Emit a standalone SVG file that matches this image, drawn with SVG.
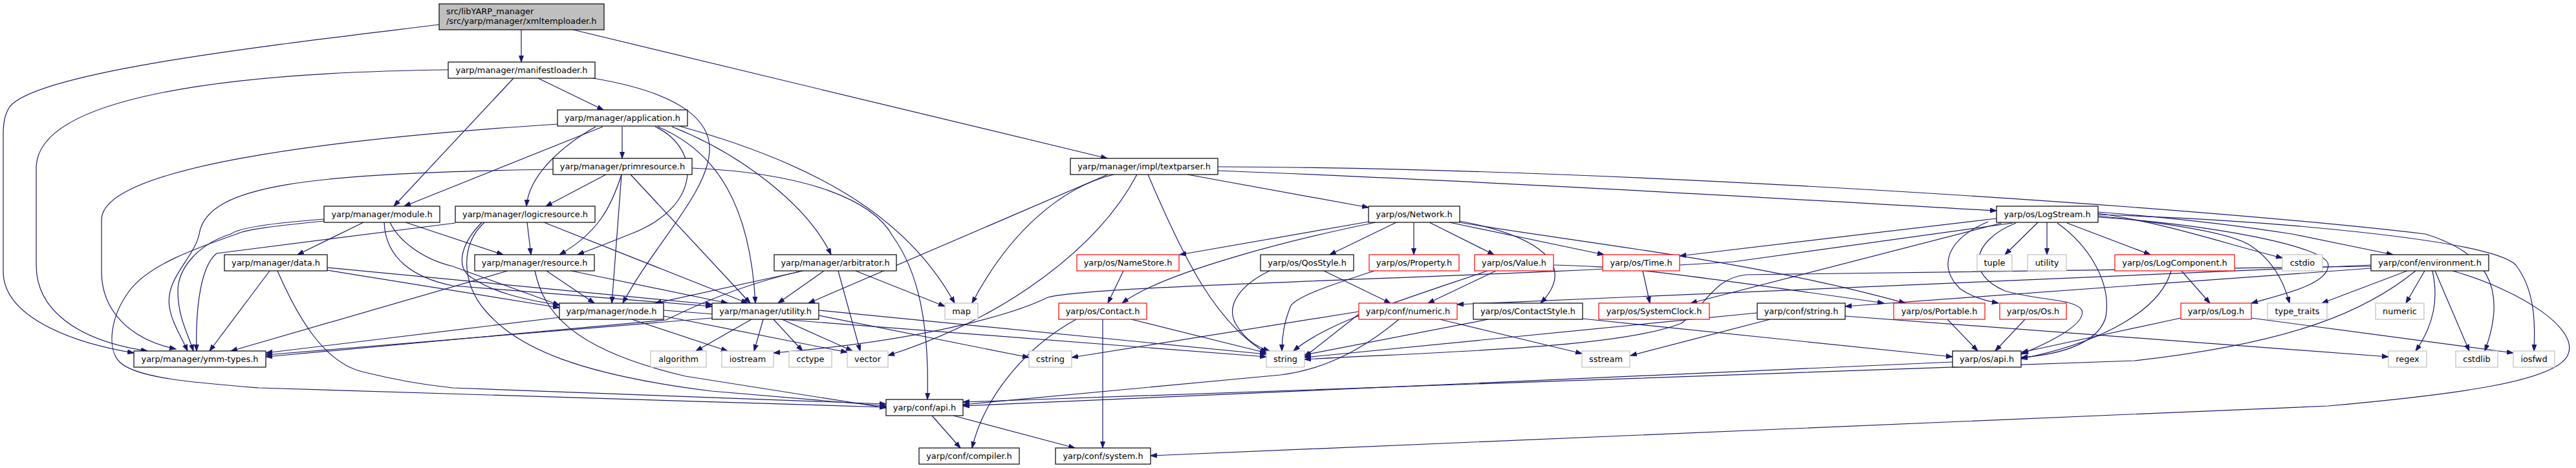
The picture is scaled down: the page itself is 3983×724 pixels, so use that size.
<svg xmlns="http://www.w3.org/2000/svg" width="3983" height="724" viewBox="0 0 3983 724">
<style>
.nd rect{fill:#fff;stroke:#000;stroke-width:1.2}
.nd.r rect{stroke:#f00}
.nd.g rect{stroke:#bfbfbf}
.nd.root rect{fill:#bfbfbf}
text{font-family:"DejaVu Sans",sans-serif;font-size:12.9px;fill:#000}
.nd text{text-anchor:middle}
#edges path{fill:none;stroke:#191970;stroke-width:1.2;marker-end:url(#a)}
</style>
<defs>
<marker id="a" markerUnits="userSpaceOnUse" markerWidth="11" markerHeight="8" refX="10" refY="4" orient="auto" viewBox="0 0 11 8"><path d="M0,0.5 L10,4 L0,7.5 z" fill="#191970" stroke="#191970"/></marker>
</defs>
<rect width="3983" height="724" fill="#fff"/>
<g id="edges">
<path d="M679,38 C420,70 60,110 15,165 C7,178 5,190 5,210 L5,420 C5,490 110,530 207,546"/>
<path d="M806,46 L806,96"/>
<path d="M886,46 L1712,245"/>
<path d="M693,108 C350,112 56,150 56,260 L56,410 C56,480 120,527 228,543"/>
<path d="M794,121 L609,319"/>
<path d="M832,121 L933,170"/>
<path d="M917,121 C1060,145 1100,190 1097,235 C1093,300 1010,380 963,469"/>
<path d="M862,192 C500,215 157,260 157,340 L157,420 C157,480 200,525 272,540"/>
<path d="M932,196 L625,319"/>
<path d="M962,196 L962,245"/>
<path d="M921,196 C870,225 818,270 814,319"/>
<path d="M1013,196 C1085,230 1085,320 975,362 C950,372 920,384 893,394"/>
<path d="M1017,196 C1110,235 1160,320 1168,469"/>
<path d="M1039,196 C1150,240 1250,320 1285,394"/>
<path d="M1050,195 C1250,250 1400,330 1476,469"/>
<path d="M855,262 C480,268 320,285 308,362 C300,400 255,430 262,475 C266,500 280,520 290,543"/>
<path d="M937,270 L844,319"/>
<path d="M961,270 C945,320 925,360 865,394"/>
<path d="M961,270 L946,469"/>
<path d="M975,270 L1160,469"/>
<path d="M1070,260 C1250,268 1350,310 1380,365 C1420,420 1437,500 1434,618"/>
<path d="M815,344 L821,394"/>
<path d="M704,345 L335,392 C312,410 302,470 304,543"/>
<path d="M745,344 C710,380 705,415 730,430 C760,450 800,462 865,472"/>
<path d="M749,344 C710,380 715,440 750,480 C800,540 900,580 1100,605 L1370,628"/>
<path d="M841,344 L1156,469"/>
<path d="M562,344 L460,394"/>
<path d="M501,339 C420,345 370,352 357,362 C300,380 275,420 275,450 C275,490 290,515 299,543"/>
<path d="M501,342 C420,350 380,355 366,362 C300,385 230,410 200,450 C170,490 165,540 185,560 C210,585 300,592 400,600 L1370,630"/>
<path d="M627,344 L778,394"/>
<path d="M603,344 C615,370 650,400 700,412 L865,472"/>
<path d="M594,344 C596,400 640,430 700,442 L1101,474"/>
<path d="M417,419 L324,543"/>
<path d="M429,419 C460,490 500,560 560,575 C600,585 650,595 700,600 L1370,625"/>
<path d="M506,418 L865,476"/>
<path d="M506,414 L1101,471"/>
<path d="M785,419 L357,543"/>
<path d="M845,419 L919,469"/>
<path d="M883,419 L1125,469"/>
<path d="M827,419 C840,480 880,540 1060,582 L1370,631"/>
<path d="M865,491 L411,546"/>
<path d="M977,494 L1125,543"/>
<path d="M1026,480 L1958,552"/>
<path d="M1026,489 L1310,545"/>
<path d="M1101,492 L411,549"/>
<path d="M1162,494 L1076,543"/>
<path d="M1180,494 L1166,543"/>
<path d="M1196,494 L1241,543"/>
<path d="M1209,494 L1318,543"/>
<path d="M1266,480 L1958,548"/>
<path d="M1266,488 L1591,553"/>
<path d="M1236,420 C1150,440 1080,470 1030,495 L411,552"/>
<path d="M1242,419 L1013,469"/>
<path d="M1274,419 L1203,469"/>
<path d="M1323,419 L1461,474"/>
<path d="M1296,419 L1330,543"/>
<path d="M1713,270 L1250,469"/>
<path d="M1722,270 C1640,290 1560,360 1503,469"/>
<path d="M1758,270 C1700,380 1560,490 1373,550"/>
<path d="M1775,270 C1830,400 1880,500 1958,546"/>
<path d="M1836,270 L2116,321"/>
<path d="M1883,264 C2300,280 2800,310 3087,326"/>
<path d="M1883,258 C2500,260 3400,320 3750,362 C3840,390 3880,440 3842,543"/>
<path d="M2116,343 L1824,394"/>
<path d="M2127,344 C2000,370 1800,420 1735,469"/>
<path d="M2159,344 L2056,394"/>
<path d="M2186,344 L2186,394"/>
<path d="M2210,344 L2310,394"/>
<path d="M2241,344 L2480,394"/>
<path d="M2257,342 C2380,365 2440,410 2382,469"/>
<path d="M2257,344 C2400,370 2700,400 2946,469"/>
<path d="M1737,419 L1713,469"/>
<path d="M1749,494 L1958,546"/>
<path d="M1705,494 L1705,693"/>
<path d="M1664,494 C1580,540 1520,620 1503,693"/>
<path d="M1441,643 L1485,693"/>
<path d="M1474,643 L1662,693"/>
<path d="M3792,419 C3900,450 3990,510 3970,550 C3950,590 3800,610 3600,628 L1779,705"/>
<path d="M3735,419 C3660,480 3550,530 3300,558 L1489,622"/>
<path d="M3019,560 L1489,628"/>
<path d="M2163,494 C2120,530 2060,570 1980,580 L1489,626"/>
<path d="M2101,486 L2017,552"/>
<path d="M2101,482 L1657,553"/>
<path d="M2226,494 L2446,547"/>
<path d="M1963,419 C1920,440 1895,470 1910,500 C1925,525 1940,535 1963,543"/>
<path d="M2047,419 L2150,469"/>
<path d="M2125,419 C2060,440 2000,460 1995,475 C1985,500 1982,520 1982,543"/>
<path d="M2313,419 L2208,469"/>
<path d="M2300,419 C2150,470 2050,500 2000,543"/>
<path d="M2540,419 L2551,469"/>
<path d="M2301,494 L2017,549"/>
<path d="M2447,493 L3019,552"/>
<path d="M2402,410 C2500,412 2560,418 2913,469"/>
<path d="M3011,494 L3058,543"/>
<path d="M3131,494 L3085,543"/>
<path d="M3151,344 L3100,394"/>
<path d="M3165,344 L3165,394"/>
<path d="M3196,345 L3325,394"/>
<path d="M3074,343 C3010,370 2995,413 3031,447 C3050,460 3070,465 3090,469"/>
<path d="M3117,345 C3047,373 3040,425 3100,450 C3150,465 3210,462 3219,480 C3225,500 3180,525 3125,548"/>
<path d="M3181,345 C3230,380 3265,437 3256,490 C3245,530 3190,548 3125,553"/>
<path d="M3087,338 L2597,396"/>
<path d="M3095,345 L2614,469"/>
<path d="M3112,345 L2680,405 C2300,430 1700,440 1620,460 C1580,480 1450,525 1196,546"/>
<path d="M3373,419 L3417,469"/>
<path d="M3357,419 C3340,480 3250,530 3125,555"/>
<path d="M3372,492 L3126,545"/>
<path d="M3481,492 L3886,546"/>
<path d="M3722,419 L3590,469"/>
<path d="M3749,419 L3720,469"/>
<path d="M3761,419 C3770,460 3765,500 3735,543"/>
<path d="M3765,419 L3818,543"/>
<path d="M3244,330 C3350,345 3450,380 3529,399"/>
<path d="M3244,334 C3350,345 3450,360 3480,380 C3510,400 3530,430 3540,469"/>
<path d="M3244,328 C3400,340 3500,355 3544,362 L3700,394"/>
<path d="M3244,336 C3400,345 3600,380 3600,410 C3600,440 3530,455 3481,469"/>
<path d="M3244,332 C3500,340 3850,370 3890,410 C3920,450 3920,500 3918,543"/>
<path d="M2853,489 L3693,552"/>
<path d="M2737,494 L2521,550"/>
<path d="M2717,484 L2017,553"/>
<path d="M3666,410 L2253,471"/>
<path d="M3666,415 L2853,474"/>
<path d="M3666,412 L2700,425 C2650,430 2640,470 2600,500 C2500,540 2200,545 2017,556"/>
</g>
<g id="n_root" class="nd root"><rect x="679" y="6" width="255" height="40"/><text x="690" y="22" style="text-anchor:start">src/libYARP_manager</text><text x="690" y="37" style="text-anchor:start">/src/yarp/manager/xmltemploader.h</text></g>
<g id="n_ml" class="nd"><rect x="693" y="96" width="227" height="25"/><text x="806.5" y="113">yarp/manager/manifestloader.h</text></g>
<g id="n_app" class="nd"><rect x="862" y="170" width="201" height="25"/><text x="962.5" y="187">yarp/manager/application.h</text></g>
<g id="n_prim" class="nd"><rect x="855" y="245" width="215" height="25"/><text x="962.5" y="262">yarp/manager/primresource.h</text></g>
<g id="n_logic" class="nd"><rect x="704" y="319" width="216" height="25"/><text x="812" y="336">yarp/manager/logicresource.h</text></g>
<g id="n_mod" class="nd"><rect x="501" y="319" width="179" height="25"/><text x="590.5" y="336">yarp/manager/module.h</text></g>
<g id="n_data" class="nd"><rect x="347" y="394" width="159" height="25"/><text x="426.5" y="411">yarp/manager/data.h</text></g>
<g id="n_ymm" class="nd"><rect x="207" y="543" width="204" height="25"/><text x="309" y="560">yarp/manager/ymm-types.h</text></g>
<g id="n_res" class="nd"><rect x="734" y="394" width="185" height="25"/><text x="826.5" y="411">yarp/manager/resource.h</text></g>
<g id="n_node" class="nd"><rect x="865" y="469" width="161" height="25"/><text x="945.5" y="486">yarp/manager/node.h</text></g>
<g id="n_util" class="nd"><rect x="1101" y="469" width="165" height="25"/><text x="1183.5" y="486">yarp/manager/utility.h</text></g>
<g id="n_arb" class="nd"><rect x="1197" y="394" width="189" height="25"/><text x="1291.5" y="411">yarp/manager/arbitrator.h</text></g>
<g id="n_alg" class="nd g"><rect x="1006" y="543" width="86" height="25"/><text x="1049" y="560">algorithm</text></g>
<g id="n_ios" class="nd g"><rect x="1116" y="543" width="80" height="25"/><text x="1156" y="560">iostream</text></g>
<g id="n_cct" class="nd g"><rect x="1220" y="543" width="66" height="25"/><text x="1253" y="560">cctype</text></g>
<g id="n_vec" class="nd g"><rect x="1310" y="543" width="63" height="25"/><text x="1341.5" y="560">vector</text></g>
<g id="n_map" class="nd g"><rect x="1461" y="469" width="51" height="25"/><text x="1486.5" y="486">map</text></g>
<g id="n_tp" class="nd"><rect x="1655" y="245" width="228" height="25"/><text x="1769" y="262">yarp/manager/impl/textparser.h</text></g>
<g id="n_ns" class="nd r"><rect x="1665" y="394" width="158" height="25"/><text x="1744" y="411">yarp/os/NameStore.h</text></g>
<g id="n_con" class="nd r"><rect x="1637" y="469" width="136" height="25"/><text x="1705" y="486">yarp/os/Contact.h</text></g>
<g id="n_cstr" class="nd g"><rect x="1591" y="543" width="66" height="25"/><text x="1624" y="560">cstring</text></g>
<g id="n_str" class="nd g"><rect x="1958" y="543" width="59" height="25"/><text x="1987.5" y="560">string</text></g>
<g id="n_capi" class="nd"><rect x="1370" y="618" width="119" height="25"/><text x="1429.5" y="635">yarp/conf/api.h</text></g>
<g id="n_comp" class="nd"><rect x="1421" y="693" width="155" height="25"/><text x="1498.5" y="710">yarp/conf/compiler.h</text></g>
<g id="n_sys" class="nd"><rect x="1632" y="693" width="147" height="25"/><text x="1705.5" y="710">yarp/conf/system.h</text></g>
<g id="n_qos" class="nd"><rect x="1949" y="394" width="144" height="25"/><text x="2021" y="411">yarp/os/QosStyle.h</text></g>
<g id="n_net" class="nd"><rect x="2116" y="319" width="141" height="25"/><text x="2186.5" y="336">yarp/os/Network.h</text></g>
<g id="n_prop" class="nd r"><rect x="2117" y="394" width="139" height="25"/><text x="2186.5" y="411">yarp/os/Property.h</text></g>
<g id="n_val" class="nd r"><rect x="2280" y="394" width="122" height="25"/><text x="2341" y="411">yarp/os/Value.h</text></g>
<g id="n_time" class="nd r"><rect x="2478" y="394" width="119" height="25"/><text x="2537.5" y="411">yarp/os/Time.h</text></g>
<g id="n_num" class="nd r"><rect x="2101" y="469" width="152" height="25"/><text x="2177" y="486">yarp/conf/numeric.h</text></g>
<g id="n_cs" class="nd"><rect x="2278" y="469" width="169" height="25"/><text x="2362.5" y="486">yarp/os/ContactStyle.h</text></g>
<g id="n_sc" class="nd r"><rect x="2472" y="469" width="171" height="25"/><text x="2557.5" y="486">yarp/os/SystemClock.h</text></g>
<g id="n_sst" class="nd g"><rect x="2446" y="543" width="74" height="25"/><text x="2483" y="560">sstream</text></g>
<g id="n_ls" class="nd"><rect x="3087" y="319" width="157" height="25"/><text x="3165.5" y="336">yarp/os/LogStream.h</text></g>
<g id="n_tup" class="nd g"><rect x="3057" y="394" width="54" height="25"/><text x="3084" y="411">tuple</text></g>
<g id="n_utl" class="nd g"><rect x="3135" y="394" width="60" height="25"/><text x="3165" y="411">utility</text></g>
<g id="n_lc" class="nd r"><rect x="3270" y="394" width="185" height="25"/><text x="3362.5" y="411">yarp/os/LogComponent.h</text></g>
<g id="n_cstrg" class="nd"><rect x="2717" y="469" width="136" height="25"/><text x="2785" y="486">yarp/conf/string.h</text></g>
<g id="n_port" class="nd r"><rect x="2928" y="469" width="141" height="25"/><text x="2998.5" y="486">yarp/os/Portable.h</text></g>
<g id="n_os" class="nd r"><rect x="3092" y="469" width="103" height="25"/><text x="3143.5" y="486">yarp/os/Os.h</text></g>
<g id="n_osapi" class="nd"><rect x="3019" y="543" width="106" height="25"/><text x="3072" y="560">yarp/os/api.h</text></g>
<g id="n_cstdio" class="nd g"><rect x="3529" y="394" width="62" height="25"/><text x="3560" y="411">cstdio</text></g>
<g id="n_env" class="nd"><rect x="3666" y="394" width="182" height="25"/><text x="3757" y="411">yarp/conf/environment.h</text></g>
<g id="n_log" class="nd r"><rect x="3372" y="469" width="109" height="25"/><text x="3426.5" y="486">yarp/os/Log.h</text></g>
<g id="n_tt" class="nd g"><rect x="3506" y="469" width="92" height="25"/><text x="3552" y="486">type_traits</text></g>
<g id="n_numr" class="nd g"><rect x="3673" y="469" width="75" height="25"/><text x="3710.5" y="486">numeric</text></g>
<g id="n_regex" class="nd g"><rect x="3693" y="543" width="59" height="25"/><text x="3722.5" y="560">regex</text></g>
<g id="n_cstdlib" class="nd g"><rect x="3797" y="543" width="65" height="25"/><text x="3829.5" y="560">cstdlib</text></g>
<g id="n_iosfwd" class="nd g"><rect x="3886" y="543" width="64" height="25"/><text x="3918" y="560">iosfwd</text></g>
</svg>
